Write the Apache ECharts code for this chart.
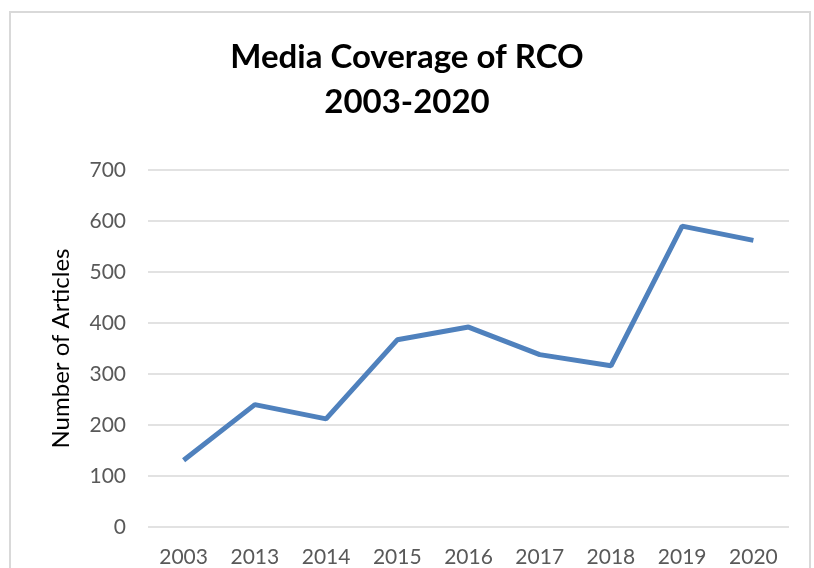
<!DOCTYPE html>
<html><head><meta charset="utf-8">
<script src="https://cdn.jsdelivr.net/npm/echarts@6/dist/echarts.min.js"></script>
<style>html,body{margin:0;padding:0;background:#fff}#c{width:814px;height:568px}</style>
</head><body><div id="c"></div>
<script>
const categories = ['2003','2013','2014','2015','2016','2017','2018','2019','2020'];
const articles = [131, 240, 212, 367, 392, 338, 316, 590, 562];
const yTicks = {min: 0, max: 700, interval: 100};

const chart = echarts.init(document.getElementById('c'));
chart.setOption({
  animation: false,
  graphic: [{type:'rect', shape:{x:10,y:12,width:800,height:620}, style:{fill:'none', stroke:'#d9d9d9', lineWidth:2}, silent:true}],
  title: {
    text: 'Media Coverage of RCO\n2003-2020',
    left: 'center', top: 30,
    textStyle: {fontFamily:'Lato', fontWeight:'bold', fontSize:33, color:'#000', lineHeight:45}
  },
  grid: {left:148, right:25, top:170, bottom:40},
  xAxis: {
    type:'category', data: categories, boundaryGap: true,
    axisLine:{show:false}, axisTick:{show:false},
    axisLabel:{color:'#595959', fontSize:21, fontFamily:'Lato', margin:20}
  },
  yAxis: {
    type:'value', min:yTicks.min, max:yTicks.max, interval:yTicks.interval,
    name:'Number of Articles', nameLocation:'middle', nameGap:75, nameRotate:90,
    nameTextStyle:{color:'#000', fontSize:24, fontFamily:'Lato'},
    axisLine:{show:false}, axisTick:{show:false},
    axisLabel:{color:'#595959', fontSize:21, fontFamily:'Lato', margin:22},
    splitLine:{lineStyle:{color:'#d9d9d9', width:1.5}}
  },
  series: [{
    type:'line', data: articles, symbol:'none',
    lineStyle:{color:'#4f81bd', width:5}
  }]
});
</script></body></html>
